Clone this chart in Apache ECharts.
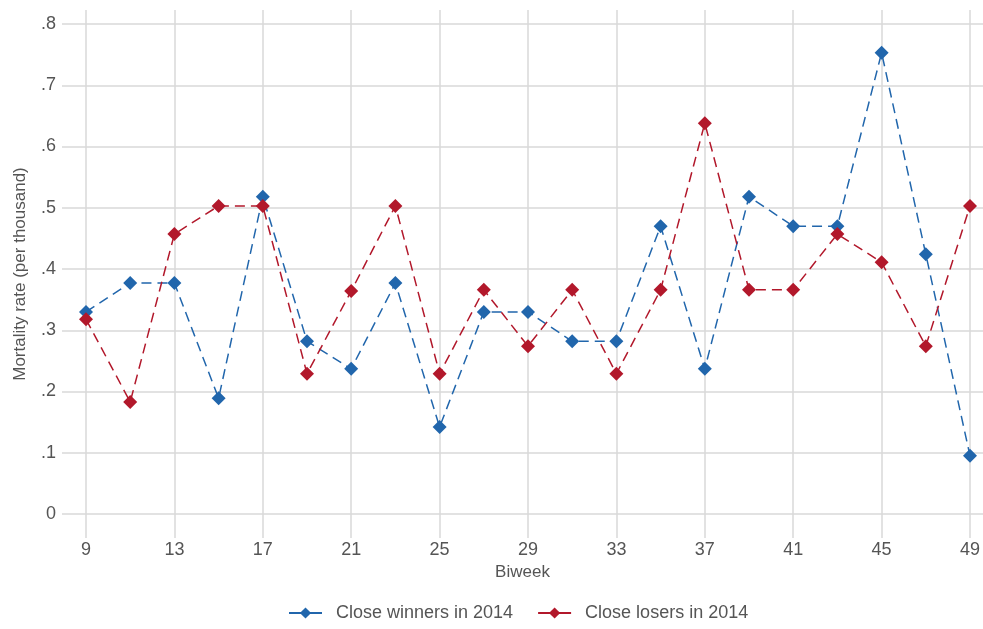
<!DOCTYPE html>
<html>
<head>
<meta charset="utf-8">
<script src="https://cdn.jsdelivr.net/npm/echarts@6/dist/echarts.min.js"></script>
<style>
  html, body { margin: 0; padding: 0; background: #fff; }
  #chart { width: 983px; height: 629px; }
</style>
</head>
<body>
<div id="chart"></div>
<script>
// Biweeks 9..49 (step 2)
const biweeks = [9, 11, 13, 15, 17, 19, 21, 23, 25, 27, 29, 31, 33, 35, 37, 39, 41, 43, 45, 47, 49];
const winners = [0.330, 0.377, 0.377, 0.189, 0.518, 0.282, 0.237, 0.377, 0.142, 0.330, 0.330,
                 0.282, 0.282, 0.470, 0.237, 0.518, 0.470, 0.470, 0.753, 0.424, 0.095];
const losers = [0.318, 0.183, 0.457, 0.503, 0.503, 0.229, 0.364, 0.503, 0.229, 0.366, 0.274,
                0.366, 0.229, 0.366, 0.638, 0.366, 0.366, 0.457, 0.411, 0.274, 0.503];
const xTicks = [9, 13, 17, 21, 25, 29, 33, 37, 41, 45, 49];
const yTicks = [0, 0.1, 0.2, 0.3, 0.4, 0.5, 0.6, 0.7, 0.8];

const blue = '#2166ac';
const red = '#b2182b';
const gridColor = '#d9d9d9';
const textColor = '#555';

function pairs(vals) {
    return biweeks.map((b, i) => [b, vals[i]]);
}

function fmtY(v) {
    if (Math.abs(v) < 1e-9) return '0';
    return '.' + Math.round(v * 10);
}

const chart = echarts.init(document.getElementById('chart'), null, { renderer: 'canvas' });

const option = {
    animation: false,
    backgroundColor: '#fff',
    textStyle: { fontFamily: 'Liberation Sans, Arial, sans-serif' },
    grid: { left: 62, right: 0, top: 10, bottom: 91, containLabel: false, outerBoundsMode: 'none' },
    legend: {
        bottom: 2,
        left: 283,
        itemWidth: 33,
        itemHeight: 14,
        itemGap: 24,
        lineStyle: { type: 'solid' },
        textStyle: { fontSize: 18, color: textColor, padding: [0, 0, 0, 9] },
        data: ['Close winners in 2014', 'Close losers in 2014']
    },
    xAxis: {
        type: 'value',
        min: 7.914,
        max: 49.588,
        name: 'Biweek',
        nameLocation: 'middle',
        nameGap: 25,
        nameTextStyle: { fontSize: 17, color: textColor },
        axisLine: { show: false },
        axisTick: { show: false, customValues: xTicks },
        axisLabel: {
            customValues: xTicks,
            fontSize: 18,
            color: textColor,
            margin: 3
        },
        splitLine: { show: true, lineStyle: { color: gridColor, width: 1.5 } }
    },
    yAxis: {
        type: 'value',
        min: -0.0392,
        max: 0.8229,
        name: 'Mortality rate (per thousand)',
        nameLocation: 'middle',
        nameGap: 33,
        nameTextStyle: { fontSize: 17, color: textColor },
        axisLine: { show: false },
        axisTick: { show: false, customValues: yTicks },
        axisLabel: {
            customValues: yTicks,
            fontSize: 18,
            color: textColor,
            margin: 6,
            formatter: fmtY
        },
        splitLine: { show: true, lineStyle: { color: gridColor, width: 1.5 } }
    },
    series: [
        {
            name: 'Close winners in 2014',
            type: 'line',
            data: pairs(winners),
            symbol: 'diamond',
            symbolSize: 14,
            itemStyle: { color: blue },
            lineStyle: { color: blue, width: 1.5, type: [10, 6] },
            z: 3
        },
        {
            name: 'Close losers in 2014',
            type: 'line',
            data: pairs(losers),
            symbol: 'diamond',
            symbolSize: 14,
            itemStyle: { color: red },
            lineStyle: { color: red, width: 1.5, type: [10, 6] },
            z: 4
        }
    ]
};

chart.setOption(option);
</script>
</body>
</html>
